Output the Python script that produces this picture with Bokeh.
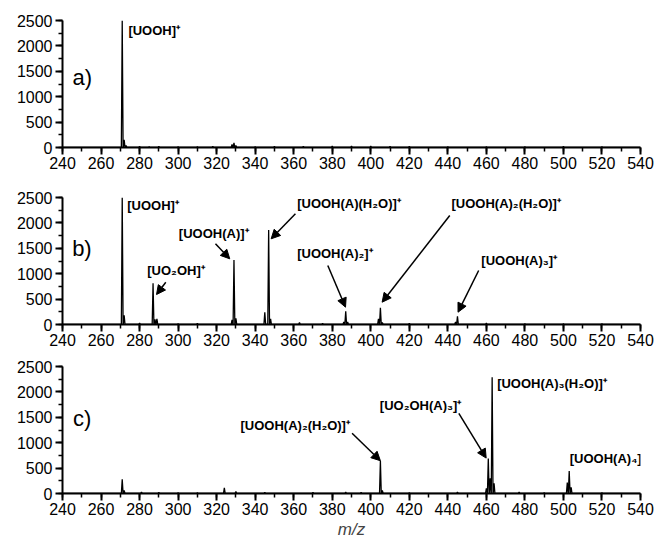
from bokeh.plotting import figure
from bokeh.layouts import column
from bokeh.models import ColumnDataSource, Arrow, NormalHead, Range1d, FixedTicker
from bokeh.core.properties import value
from bokeh.embed import file_html
from bokeh.resources import INLINE

# ---------------- data ----------------
x_ticks = [240, 260, 280, 300, 320, 340, 360, 380, 400, 420, 440, 460, 480, 500, 520, 540]
y_ticks = [0, 500, 1000, 1500, 2000, 2500]

a_mz = [271, 272, 273, 280, 285, 290, 300, 310, 318, 328, 329, 330, 340, 350, 365, 380, 390, 400, 410, 420, 440, 460, 480, 500, 520]
a_int = [2500, 150, 40, 20, 15, 20, 15, 15, 20, 60, 90, 40, 15, 20, 20, 25, 30, 25, 20, 20, 15, 15, 15, 20, 15]

b_mz = [271, 272, 280, 287, 288, 289, 300, 310, 328, 329, 330, 345, 347, 348, 363, 375, 386, 387, 388, 404, 405, 406, 420, 444, 445, 460, 480, 500, 520]
b_int = [2500, 180, 30, 810, 100, 110, 15, 20, 90, 1270, 120, 240, 1860, 110, 40, 20, 50, 260, 50, 110, 330, 40, 20, 50, 160, 25, 15, 15, 15]

c_mz = [271, 272, 281, 290, 300, 310, 324, 330, 345, 370, 387, 395, 405, 406, 420, 445, 460, 461, 462, 463, 464, 477, 490, 502, 503, 504, 520]
c_int = [280, 60, 30, 20, 15, 15, 110, 40, 20, 20, 25, 20, 645, 60, 15, 30, 100, 690, 300, 2290, 200, 30, 15, 215, 440, 120, 15]

panel_names = ["a)", "b)", "c)"]
panel_name_x = [245.2, 245.0, 245.5]
panel_name_y = [1384, 1490, 1478]

a_lab = ["[UOOH]⁺"]
a_lab_x = [274.2]
a_lab_y = [2303]

b_lab = ["[UOOH]⁺", "[UO₂OH]⁺", "[UOOH(A)]⁺", "[UOOH(A)(H₂O)]⁺", "[UOOH(A)₂]⁺", "[UOOH(A)₂(H₂O)]⁺", "[UOOH(A)₃]⁺"]
b_lab_x = [273.6, 284.0, 300.4, 361.8, 361.8, 441.9, 457.4]
b_lab_y = [2343, 1063, 1785, 2376, 1398, 2376, 1260]
b_arr_x0 = [293.6, 319.4, 360.9, 377.7, 441.0, 456.0]
b_arr_y0 = [833, 1588, 2179, 1161, 2146, 1063]
b_arr_x1 = [288.8, 326.8, 348.3, 386.9, 405.9, 445.3]
b_arr_y1 = [590, 1293, 1687, 341, 439, 242]

c_lab = ["[UOOH(A)₂(H₂O)]⁺", "[UO₂OH(A)₃]⁺", "[UOOH(A)₃(H₂O)]⁺", "[UOOH(A)₄]⁺"]
c_lab_x = [332.4, 404.7, 465.6, 503.3]
c_lab_y = [1348, 1738, 2162, 697]
c_arr_x0 = [390.3, 445.7]
c_arr_y0 = [1185, 1576]
c_arr_x1 = [405.0, 459.9]
c_arr_y1 = [645, 697]

FONT = "Liberation Sans"


def profile(mz, inten, hw=0.45):
    xs, ys = [240], [0]
    for m, i in sorted(zip(mz, inten)):
        xs += [m - hw, m, m + hw]
        ys += [0, i, 0]
    xs.append(540)
    ys.append(0)
    return xs, ys


def make_panel(height, top, bottom, mz, inten, name_idx, labs, lx, ly,
               ax0=None, ay0=None, ax1=None, ay1=None, xlabel=None):
    p = figure(width=655, height=height, output_backend="svg", toolbar_location=None,
               x_range=Range1d(240, 540), y_range=Range1d(0, 2500),
               min_border_left=62, min_border_right=15,
               min_border_top=top, min_border_bottom=bottom)
    p.outline_line_color = None
    p.grid.visible = False
    p.background_fill_color = "white"
    p.border_fill_color = "white"

    for ax in (p.xaxis[0], p.yaxis[0]):
        ax.axis_line_width = 2
        ax.major_tick_line_width = 2
        ax.minor_tick_line_width = 1.5
        ax.major_tick_out = 7
        ax.major_tick_in = 0
        ax.minor_tick_out = 4
        ax.minor_tick_in = 0
        ax.major_label_text_font = FONT
        ax.major_label_text_font_size = "16px"
        ax.major_label_text_color = "black"
        ax.axis_line_color = "black"
        ax.major_tick_line_color = "black"
        ax.minor_tick_line_color = "black"
    p.xaxis[0].ticker = FixedTicker(ticks=x_ticks, minor_ticks=list(range(240, 541, 10)))
    p.yaxis[0].ticker = FixedTicker(ticks=y_ticks, minor_ticks=list(range(0, 2501, 250)))
    p.xaxis[0].major_label_standoff = 2
    p.yaxis[0].major_label_standoff = 3
    if xlabel:
        p.xaxis[0].axis_label = xlabel
        p.xaxis[0].axis_label_text_font = FONT
        p.xaxis[0].axis_label_text_font_style = "italic"
        p.xaxis[0].axis_label_text_font_size = "17px"
        p.xaxis[0].axis_label_standoff = 2

    xs, ys = profile(mz, inten)
    p.line(xs, ys, line_color="black", line_width=1.3)

    p.text(x=[panel_name_x[name_idx]], y=[panel_name_y[name_idx]], text=[panel_names[name_idx]],
           text_font=value(FONT), text_font_size="22px", text_baseline="middle",
           text_align="left", text_color="black")

    src = ColumnDataSource(dict(x=lx, y=ly, t=labs))
    p.text(x="x", y="y", text="t", source=src, text_font=value(FONT), text_font_size="13px",
           text_font_style="bold", text_baseline="middle", text_align="left", text_color="black")

    if ax0:
        asrc = ColumnDataSource(dict(x0=ax0, y0=ay0, x1=ax1, y1=ay1))
        p.add_layout(Arrow(end=NormalHead(size=9, fill_color="black", line_color="black"),
                           x_start="x0", y_start="y0", x_end="x1", y_end="y1",
                           line_width=1.5, line_color="black", source=asrc))
    return p


pa = make_panel(177, 20, 30, a_mz, a_int, 0, a_lab, a_lab_x, a_lab_y)
pb = make_panel(174, 20, 27, b_mz, b_int, 1, b_lab, b_lab_x, b_lab_y,
                b_arr_x0, b_arr_y0, b_arr_x1, b_arr_y1)
pc = make_panel(193, 15, 51, c_mz, c_int, 2, c_lab, c_lab_x, c_lab_y,
                c_arr_x0, c_arr_y0, c_arr_x1, c_arr_y1, xlabel="m/z")

layout = column(pa, pb, pc, spacing=0)
open("out.html", "w").write(file_html(layout, INLINE))
